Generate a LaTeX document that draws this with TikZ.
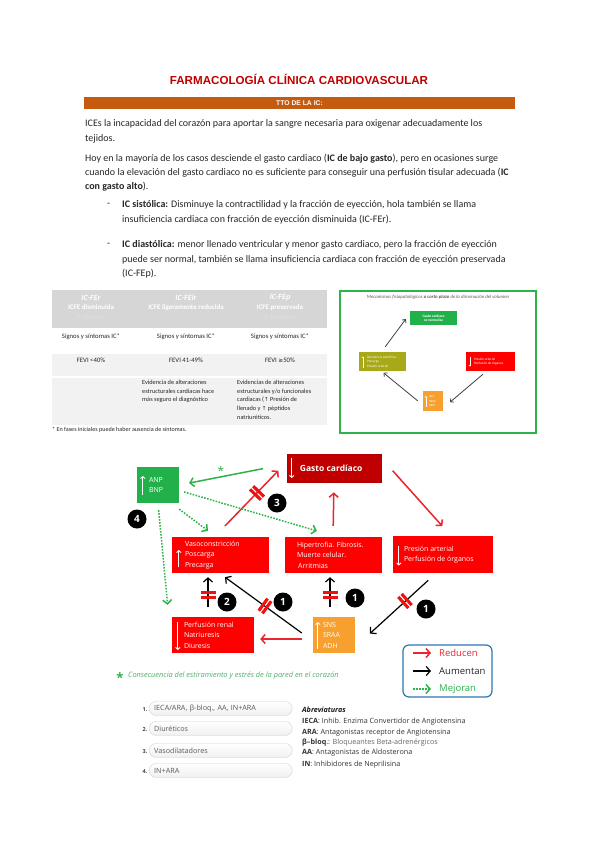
\documentclass[tikz,border=0pt]{standalone}
\usepackage{fontspec}
\setmainfont{Carlito}
\newfontfamily\osf{Open Sans}
\newfontfamily\libs{Liberation Sans}
\newfontfamily\dvs{DejaVu Sans}
\usetikzlibrary{arrows.meta,calc}
\definecolor{titred}{HTML}{C00000}
\definecolor{barorg}{HTML}{C55A11}
\definecolor{boxred}{HTML}{FF0000}
\definecolor{darkred}{HTML}{C00000}
\definecolor{arrred}{HTML}{E8262B}
\definecolor{grn}{HTML}{2DB34A}
\definecolor{boxgrn}{HTML}{22B04B}
\definecolor{orng}{HTML}{F7A030}
\definecolor{olivebox}{HTML}{A8A818}
\definecolor{hdrgray}{HTML}{D6D6D6}
\definecolor{rowgray}{HTML}{F2F2F2}
\definecolor{legblue}{HTML}{2E75B6}
\definecolor{brkred}{HTML}{EE1111}
\definecolor{txtdark}{HTML}{262626}
\definecolor{cgreen}{HTML}{4DB06A}
\tikzset{
 body/.style={anchor=west, inner sep=0, text=txtdark, font=\fontsize{10}{12}\selectfont},
 box/.style={draw=none, inner sep=0},
 lbl/.style={anchor=west, inner sep=0, align=left, text=white, font=\osf\fontsize{7}{10.5}\selectfont},
 arrtip/.style={-{Straight Barb[length=4pt,width=9pt]}},
 redarr/.style={arrtip, draw=arrred, line width=1.5pt},
 blkarr/.style={arrtip, draw=black, line width=1.2pt},
 grnsolid/.style={arrtip, draw=grn, line width=1.5pt},
 grnarr/.style={arrtip, draw=grn, line width=1.5pt, dash pattern=on 1.6pt off 1.4pt},
 wup/.style={-{Straight Barb[length=2pt,width=4.5pt]}, draw=white, line width=0.9pt},
 badge/.style={circle, fill=black, text=white, minimum size=19pt, inner sep=0, font=\osf\bfseries\fontsize{10}{10}\selectfont},
 pics/brkm/.style={code={\fill[brkred] (-3.8,-7.5) rectangle (-0.7,7.5); \fill[brkred] (0.7,-7.5) rectangle (3.8,7.5);}},
 th1/.style={inner sep=0, text=white, font=\bfseries\itshape\fontsize{8}{9}\selectfont},
 th2/.style={inner sep=0, text=white, font=\bfseries\fontsize{7}{8}\selectfont},
 th3/.style={inner sep=0, text=white!88!black, font=\fontsize{6.5}{7}\selectfont},
 tc/.style={inner sep=0, text=txtdark, font=\fontsize{6.7}{8}\selectfont},
 tl/.style={anchor=north west, inner sep=0, align=left, text=txtdark, font=\fontsize{6.3}{8.7}\selectfont},
 mlbl/.style={inner sep=0, align=left, text=white, font=\fontsize{3.4}{4.6}\selectfont},
 marr/.style={-{Straight Barb[length=2.5pt,width=5pt]}, draw=black!75, line width=0.8pt},
 pill/.style={anchor=west, rounded corners=7pt, draw=gray!35, top color=white, bottom color=gray!12, minimum height=14pt, text width=133pt, inner xsep=5pt, inner ysep=0, align=left, text=black!65, font=\osf\fontsize{7.2}{8}\selectfont},
 num/.style={inner sep=0, text=black!75, font=\osf\bfseries\fontsize{5.5}{6}\selectfont},
 abbr/.style={anchor=west, inner sep=0, text=black!80, font=\osf\fontsize{7.2}{8}\selectfont},
 legt/.style={anchor=west, inner sep=0, font=\osf\fontsize{9.5}{10}\selectfont},
}
\begin{document}
\begin{tikzpicture}[x=1pt,y=-1pt]
\useasboundingbox (0,0) rectangle (599,848);
\fill[white] (0,0) rectangle (599,848);

% ---------- title and bar
\node[inner sep=0, text=titred, font=\libs\bfseries\fontsize{11.6}{13}\selectfont] (title) at (299,79) {FARMACOLOGÍA CLÍNICA CARDIOVASCULAR};
\node[fill=barorg, minimum width=431pt, minimum height=12pt, inner sep=0, text=white, font=\libs\bfseries\fontsize{6.8}{7}\selectfont] (bar) at (299.5,103.5) {TTO DE LA IC:};

% ---------- paragraphs
\node[body] (p1a) at (85,124) {ICEs la incapacidad del corazón para aportar la sangre necesaria para oxigenar adecuadamente los};
\node[body] (p1b) at (85,139) {tejidos.};
\node[body] (p2a) at (85,159) {Hoy en la mayoría de los casos desciende el gasto cardiaco (\textbf{IC de bajo gasto}), pero en ocasiones surge};
\node[body] (p2b) at (85,173) {cuando la elevación del gasto cardiaco no es suficiente para conseguir una perfusión tisular adecuada (\textbf{IC}};
\node[body] (p2c) at (85,187) {\textbf{con gasto alto}).};
\node[body] (d1) at (107,205) {-};
\node[body] (b1a) at (122,205) {\textbf{IC sistólica:} Disminuye la contractilidad y la fracción de eyección, hola también se llama};
\node[body] (b1b) at (122,220) {insuficiencia cardiaca con fracción de eyección disminuida (IC-FEr).};
\node[body] (d2) at (107,245) {-};
\node[body] (b2a) at (122,245) {\textbf{IC diastólica:} menor llenado ventricular y menor gasto cardiaco, pero la fracción de eyección};
\node[body] (b2b) at (122,260) {puede ser normal, también se llama insuficiencia cardiaca con fracción de eyección preservada};
\node[body] (b2c) at (122,274) {(IC-FEp).};

% ---------- table
\node[box, fill=hdrgray, minimum width=275pt, minimum height=38pt] (thead) at (189.5,309) {};
\node[box, fill=rowgray, minimum width=275pt, minimum height=22pt] (trow2) at (189.5,365) {};
\node[box, fill=rowgray, minimum width=275pt, minimum height=47pt] (trow3) at (189.5,401.5) {};
\node[th1] (h1a) at (91,298) {IC-FEr};
\node[th2] (h1b) at (91,307.5) {ICFE disminuida};
\node[th3] (h1c) at (91,317) {IC Sistólica};
\node[th1] (h2a) at (186,298) {IC-FElr};
\node[th2] (h2b) at (186,307.5) {ICFE ligeramente reducida};
\node[th1] (h3a) at (280,298) {IC-FEp};
\node[th2] (h3b) at (280,307.5) {ICFE preservada};
\node[th3] (h3c) at (280,317) {IC Diastólica};
\node[tc] (r1a) at (91,337) {Signos y síntomas IC*};
\node[tc] (r1b) at (186,337) {Signos y síntomas IC*};
\node[tc] (r1c) at (280,337) {Signos y síntomas IC*};
\node[tc] (r2a) at (91,360) {FEVI <40\%};
\node[tc] (r2b) at (186,360) {FEVI 41-49\%};
\node[tc] (r2c) at (280,360) {FEVI {\dvs\fontsize{5.8}{7}\selectfont ≥}50\%};
\node[tl] (r3b) at (142,380) {Evidencia de alteraciones\\estructurales cardiacas hace\\más seguro el diagnóstico};
\node[tl] (r3c) at (237,380) {Evidencias de alteraciones\\estructurales y/o funcionales\\cardiacas ({\dvs\fontsize{5.5}{7}\selectfont ↑} Presión de\\llenado y {\dvs\fontsize{5.5}{7}\selectfont ↑} péptidos\\natriuréticos.};
\node[anchor=west, inner sep=0, text=txtdark, font=\fontsize{6.1}{7}\selectfont] (tfoot) at (52,430) {* En fases iniciales puede haber ausencia de síntomas.};

% ---------- mechanisms box
\node[box, draw=grn, line width=2pt, minimum width=196pt, minimum height=142pt] (mech) at (437.5,362) {};
\node[inner sep=0, text=black!65, font=\itshape\fontsize{4.8}{6}\selectfont] (mtitle) at (438,297.5) {Mecanismos fisiopatológicos \textbf{a corto plazo} de la disminución del volumen};
\node[box, fill=boxgrn, minimum width=47pt, minimum height=14pt, align=center, text=white, font=\bfseries\fontsize{3.6}{4.4}\selectfont] (mgc) at (433.5,318) {Gasto cardíaco\\se normaliza};
\node[box, fill=olivebox, minimum width=47pt, minimum height=19pt] (molv) at (382.5,361.5) {};
\node[mlbl, anchor=west] (molvt) at ([xshift=8]molv.west) {Resistencia periférica\\Precarga\\Presión arterial};
\draw[wup, line width=0.5pt, -{Straight Barb[length=1pt,width=2pt]}] ([xshift=4,yshift=-6]molv.west) -- ([xshift=4,yshift=5]molv.west);
\node[box, fill=boxred, minimum width=49pt, minimum height=19pt] (mred) at (490.5,361.5) {};
\node[mlbl, anchor=west] (mredt) at ([xshift=8]mred.west) {Presión arterial\\Perfusión de órganos};
\draw[wup, line width=0.5pt, -{Straight Barb[length=1pt,width=2pt]}] ([xshift=4,yshift=5]mred.west) -- ([xshift=4,yshift=-5]mred.west);
\node[box, fill=orng, minimum width=20pt, minimum height=20pt] (morg) at (433,401) {};
\node[mlbl, anchor=west, font=\fontsize{3.2}{4.6}\selectfont] (morgt) at ([xshift=6]morg.west) {SNS\\SRAA\\ADH};
\draw[wup, line width=0.5pt, -{Straight Barb[length=1pt,width=2pt]}] ([xshift=3,yshift=-6]morg.west) -- ([xshift=3,yshift=5]morg.west);
\draw[marr, shorten <=4.5pt, shorten >=9pt] ([xshift=-4]mred.south) -- ([yshift=-7]morg.east);
\draw[marr, shorten <=6.5pt, shorten >=2.6pt] ([yshift=-4]morg.west) -- ([xshift=-1]molv.south);
\draw[marr, shorten <=6.2pt, shorten >=6.7pt] ([xshift=-1]molv.north) -- ([yshift=4.3]mgc.west);

% ---------- main diagram boxes
\node[box, fill=boxgrn, minimum width=42pt, minimum height=36pt] (anp) at (158,485) {};
\node[lbl] (anpt) at ([xshift=12]anp.west) {ANP\\BNP};
\draw[wup] ([xshift=6,yshift=-10]anp.west) -- ([xshift=6,yshift=9]anp.west);

\node[box, fill=darkred, draw=red!70!black, line width=0.6pt, minimum width=94pt, minimum height=28pt] (gasto) at (334,468) {};
\node[lbl, font=\osf\bfseries\fontsize{8.5}{10}\selectfont] (gastot) at ([xshift=13]gasto.west) {Gasto cardíaco};
\draw[wup] ([xshift=5,yshift=10]gasto.west) -- ([xshift=5,yshift=-10]gasto.west);

\node[box, fill=boxred, minimum width=97pt, minimum height=36pt] (vaso) at (220.5,555) {};
\node[lbl] (vasot) at ([xshift=13]vaso.west) {Vasoconstricción\\Poscarga\\Precarga};
\draw[wup] ([xshift=7,yshift=-12]vaso.west) -- ([xshift=7,yshift=5]vaso.west);

\node[box, fill=boxred, minimum width=97pt, minimum height=36pt] (hip) at (333.5,555) {};
\node[lbl] (hipt) at ([xshift=12]hip.west) {Hipertrofia. Fibrosis.\\Muerte celular.\\\,Arritmias};

\node[box, fill=boxred, minimum width=100pt, minimum height=37pt] (pres) at (443,554.5) {};
\node[lbl] (prest) at ([xshift=11]pres.west) {Presión arterial\\Perfusión de órganos};
\draw[wup] ([xshift=6,yshift=9]pres.west) -- ([xshift=6,yshift=-11]pres.west);

\node[box, fill=boxred, minimum width=82pt, minimum height=36pt] (renal) at (213,635) {};
\node[lbl] (renalt) at ([xshift=12]renal.west) {Perfusión renal\\Natriuresis\\Diuresis};
\draw[wup] ([xshift=6,yshift=13]renal.west) -- ([xshift=6,yshift=-15]renal.west);

\node[box, fill=orng, minimum width=42pt, minimum height=36pt] (sns) at (334,635) {};
\node[lbl] (snst) at ([xshift=10]sns.west) {SNS\\SRAA\\ADH};
\draw[wup] ([xshift=5,yshift=-14]sns.west) -- ([xshift=5,yshift=13]sns.west);

% ---------- main diagram connectors
\draw[grnsolid, shorten <=24pt, shorten >=10pt] ([yshift=4]gasto.west) -- (anp.east);
\node[inner sep=0, text=grn, font=\osf\fontsize{12}{12}\selectfont] (star1) at (221,471) {*};
\draw[redarr, shorten <=15pt, shorten >=12pt] ([xshift=-6]vaso.north) -- ([yshift=6]gasto.west);
\draw[redarr, shorten <=11pt, shorten >=10pt] ([xshift=-0.5]hip.north) -- (gasto.south);
\draw[redarr, shorten <=17pt, shorten >=13pt] ([yshift=10]gasto.east) -- ([xshift=8]pres.north);
\draw[blkarr, shorten <=13.6pt, shorten >=6.8pt] ([yshift=-6]sns.west) -- ([xshift=-1]vaso.south);
\draw[blkarr, shorten <=10pt, shorten >=4pt] ([xshift=-5]renal.north) -- ([xshift=-12.5]vaso.south);
\draw[blkarr, shorten <=10pt, shorten >=4pt] ([xshift=-4]sns.north) -- ([xshift=-3.5]hip.south);
\draw[blkarr, shorten <=10.5pt, shorten >=20pt] ([xshift=-7]pres.south) -- ([yshift=-12]sns.east);
\draw[redarr, shorten <=11pt, shorten >=6pt] ([yshift=-4]sns.west) -- ([yshift=-4]renal.east);
\draw[grnarr, shorten <=10pt, shorten >=10pt] ([xshift=-8]anp.south east) -- ([xshift=-4.5]vaso.north);
\draw[grnarr, shorten <=5pt, shorten >=21pt] ([yshift=-5.5]anp.east) -- ([xshift=3.5]hip.north);
\draw[grnarr, shorten <=7pt, shorten >=12pt] (anp.south) -- ([xshift=-3]renal.north west);

% break markers and badges
\pic[rotate=46] at (257,493) {brkm};
\pic[rotate=-36] at (265,606) {brkm};
\pic[rotate=90] at (208,595) {brkm};
\pic[rotate=90] at (330,595) {brkm};
\pic[rotate=42] at (405,601) {brkm};
\node[badge] (bd4) at (137,519) {4};
\node[badge] (bd3) at (277,503) {3};
\node[badge] (bd2) at (227,602) {2};
\node[badge] (bd1a) at (283,602) {1};
\node[badge] (bd1b) at (355,598) {1};
\node[badge] (bd1c) at (426,609) {1};

% ---------- legend
\node[box, draw=legblue, rounded corners=6pt, line width=1.2pt, minimum width=89pt, minimum height=52pt] (leg) at (447.5,671) {};
\coordinate (lr1) at (413,653); \coordinate (lr2) at (431,653);
\coordinate (lb1) at (413,671); \coordinate (lb2) at (431,671);
\coordinate (lg1) at (413,689); \coordinate (lg2) at (431,689);
\draw[redarr] (lr1) -- (lr2);
\draw[blkarr] (lb1) -- (lb2);
\draw[grnarr] (lg1) -- (lg2);
\node[legt, text=arrred] (legr) at (439,653) {Reducen};
\node[legt, text=black!85] (legb) at (439,671) {Aumentan};
\node[legt, text=grn] (legg) at (439,689) {Mejoran};

% ---------- consecuencia
\node[inner sep=0, text=grn, font=\osf\bfseries\fontsize{13}{13}\selectfont] (star2) at (120,678) {*};
\node[anchor=west, inner sep=0, text=cgreen, font=\osf\itshape\fontsize{7.4}{8}\selectfont] (consec) at (128,676) {Consecuencia del estiramiento y estrés de la pared en el corazón};

% ---------- list
\node[num] (n1) at (145,710) {1.};
\node[pill] (l1) at (149,708.5) {IECA/ARA, β-bloq., AA, IN+ARA};
\node[num] (n2) at (145,730) {2.};
\node[pill] (l2) at (149,728.5) {Diuréticos};
\node[num] (n3) at (145,752) {3.};
\node[pill] (l3) at (149,750.5) {Vasodilatadores};
\node[num] (n4) at (145,772) {4.};
\node[pill] (l4) at (149,770.5) {IN+ARA};

% ---------- abbreviations
\node[abbr, text=black!90] (ab0) at (302,710) {\textbf{\textit{Abreviaturas}}};
\node[abbr] (ab1) at (302,722) {\textbf{IECA}: Inhib. Enzima Convertidor de Angiotensina};
\node[abbr] (ab2) at (302,732.5) {\textbf{ARA}: Antagonistas receptor de Angiotensina};
\node[abbr] (ab3) at (302,742.5) {\textbf{β–bloq}.: {\color{black!60}Bloqueantes Beta-adrenérgicos}};
\node[abbr] (ab4) at (302,753) {\textbf{AA}: Antagonistas de Aldosterona};
\node[abbr] (ab5) at (302,764.5) {\textbf{IN}: Inhibidores de Neprilisina};
\end{tikzpicture}
\end{document}
